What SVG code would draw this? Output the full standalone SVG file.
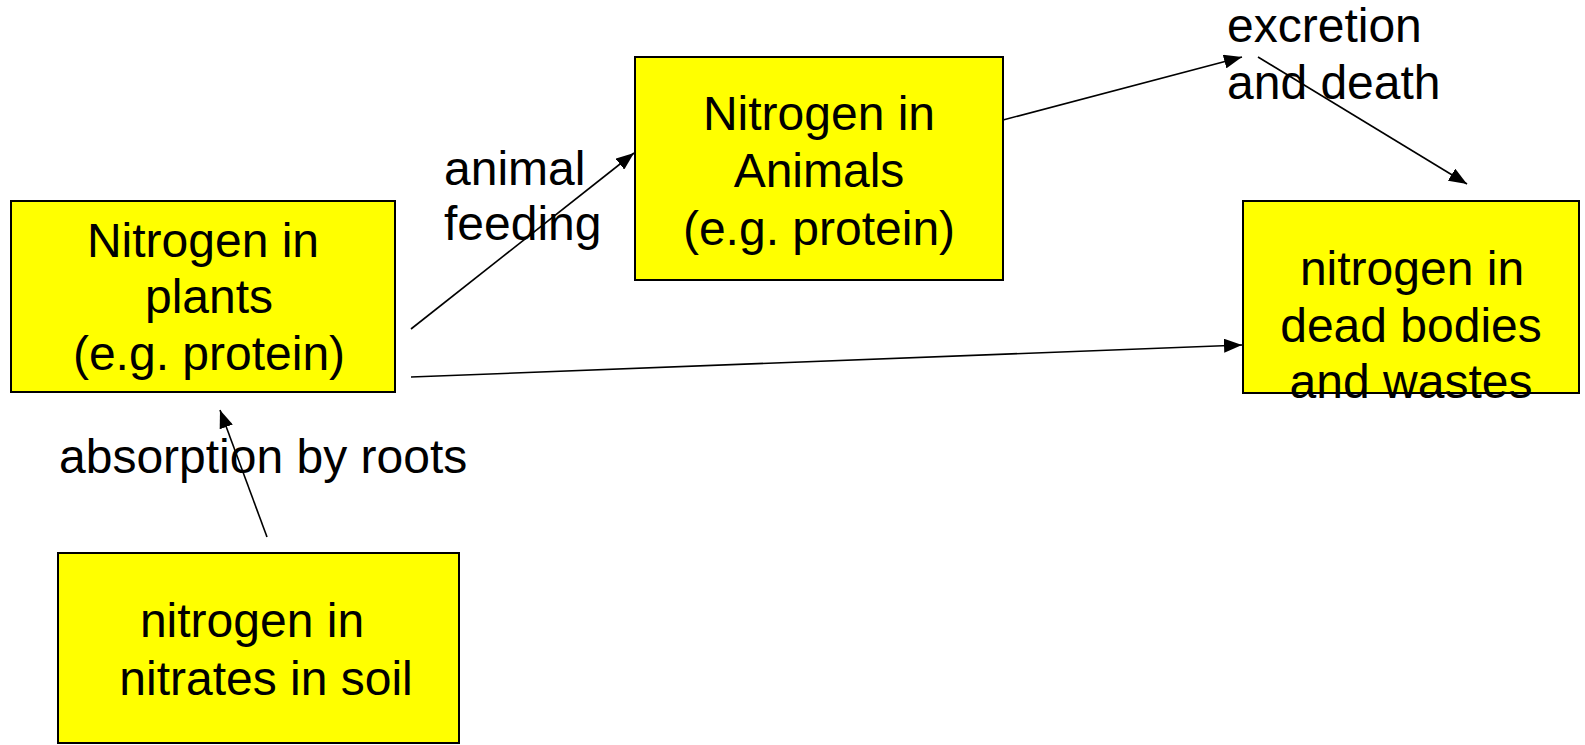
<svg xmlns="http://www.w3.org/2000/svg" width="1585" height="745" viewBox="0 0 1585 745">
  <style>
    .box { fill: #ffff00; stroke: #000000; stroke-width: 2; }
    .lbl { font-family: "Liberation Sans", Arial, sans-serif; font-size: 48px; fill: #000000; }
    .mid { text-anchor: middle; }
    .edge { stroke: #000000; stroke-width: 1.6; fill: none; marker-end: url(#head); }
  </style>
  <defs>
    <marker id="head" markerUnits="userSpaceOnUse" markerWidth="20" markerHeight="14" refX="18" refY="7" orient="auto">
      <path d="M0,0 L18,7 L0,14 Z" fill="#000000"/>
    </marker>
  </defs>
  <rect width="1585" height="745" fill="#ffffff"/>

  <!-- nodes -->
  <g id="plants">
    <rect class="box" x="11" y="201" width="384" height="191"/>
    <text class="lbl mid" x="203" y="257">Nitrogen in</text>
    <text class="lbl mid" x="209" y="313">plants</text>
    <text class="lbl mid" x="209" y="370">(e.g. protein)</text>
  </g>

  <g id="animals">
    <rect class="box" x="635" y="57" width="368" height="223"/>
    <text class="lbl mid" x="819" y="130">Nitrogen in</text>
    <text class="lbl mid" x="819" y="187">Animals</text>
    <text class="lbl mid" x="819" y="245">(e.g. protein)</text>
  </g>

  <g id="dead">
    <rect class="box" x="1243" y="201" width="336" height="192"/>
    <text class="lbl mid" x="1412" y="285">nitrogen in</text>
    <text class="lbl mid" x="1411" y="342">dead bodies</text>
    <text class="lbl mid" x="1411" y="398">and wastes</text>
  </g>

  <g id="soil">
    <rect class="box" x="58" y="553" width="401" height="190"/>
    <text class="lbl mid" x="252" y="637">nitrogen in</text>
    <text class="lbl mid" x="266" y="695">nitrates in soil</text>
  </g>

  <!-- edge labels -->
  <g id="labels">
    <text class="lbl" x="444" y="185">animal</text>
    <text class="lbl" x="444" y="240">feeding</text>
    <text class="lbl" x="1227" y="42">excretion</text>
    <text class="lbl" x="1227" y="99">and death</text>
    <text class="lbl" x="59" y="473">absorption by roots</text>
  </g>

  <!-- connectors -->
  <g id="connectors">
    <line class="edge" x1="411" y1="329" x2="634" y2="153"/>
    <line class="edge" x1="1003" y1="120" x2="1242" y2="57"/>
    <line class="edge" x1="1258" y1="57" x2="1467" y2="184"/>
    <line class="edge" x1="411" y1="377" x2="1242" y2="345"/>
    <line class="edge" x1="267" y1="537" x2="220" y2="410"/>
  </g>
</svg>
